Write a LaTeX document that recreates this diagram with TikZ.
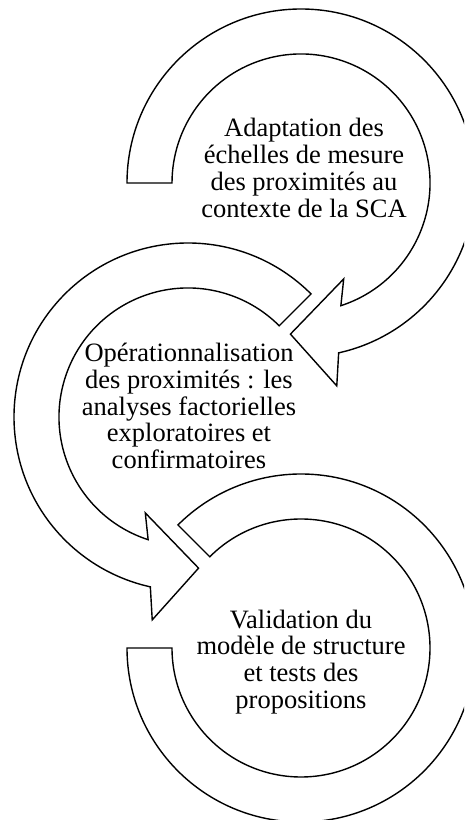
\documentclass[tikz,border=0pt]{standalone}
\usepackage{fontspec}
\setmainfont{Liberation Serif}

\begin{document}
\begin{tikzpicture}[x=1pt,y=1pt,
  ring/.style={draw=black,fill=white,line width=1.4pt,line join=miter},
  lbl/.style={font=\fontsize{26.5}{26.8}\selectfont,align=center,inner sep=0pt},
]

\def\Ro{174}
\def\Ri{129}
\def\Rm{151.5}

\useasboundingbox (0,0) rectangle (464,820);
\clip (0,0) rectangle (464,820);

% ------------------------------------------------------------------
% Step 1: top arrow, turning clockwise
% ------------------------------------------------------------------
\begin{scope}[shift={(301,637)}]
  \filldraw[ring] (180:\Ro) arc[start angle=180,end angle=-77.5,radius=\Ro]
    -- (-80:206) -- (-94:\Rm) -- (-66:105) -- (-72:\Ri)
    arc[start angle=-72,end angle=180,radius=\Ri] -- cycle;
\end{scope}
\node[lbl] (adapt) at (304,652)
  {Adaptation des\\échelles de mesure\\des proximités au\\contexte de la SCA};

% ------------------------------------------------------------------
% Step 2: middle arrow, turning counter-clockwise
% ------------------------------------------------------------------
\begin{scope}[shift={(188,403)}]
  \filldraw[ring] (45:\Ro) arc[start angle=45,end angle=257.5,radius=\Ro]
    -- (260:206) -- (274:\Rm) -- (246:105) -- (252:\Ri)
    arc[start angle=252,end angle=45,radius=\Ri] -- cycle;
\end{scope}
\node[lbl] (oper) at (189,414)
  {Opérationnalisation\\des proximités : les\\analyses factorielles\\exploratoires et\\confirmatoires};

% ------------------------------------------------------------------
% Step 3: bottom ring
% ------------------------------------------------------------------
\begin{scope}[shift={(301,172)}]
  \filldraw[ring] (180:\Ro) arc[start angle=180,end angle=495,radius=\Ro]
    -- (495:\Ri) arc[start angle=495,end angle=180,radius=\Ri] -- cycle;
\end{scope}
\node[lbl] (valid) at (301,158)
  {Validation du\\modèle de structure\\et tests des\\propositions};

\end{tikzpicture}
\end{document}
